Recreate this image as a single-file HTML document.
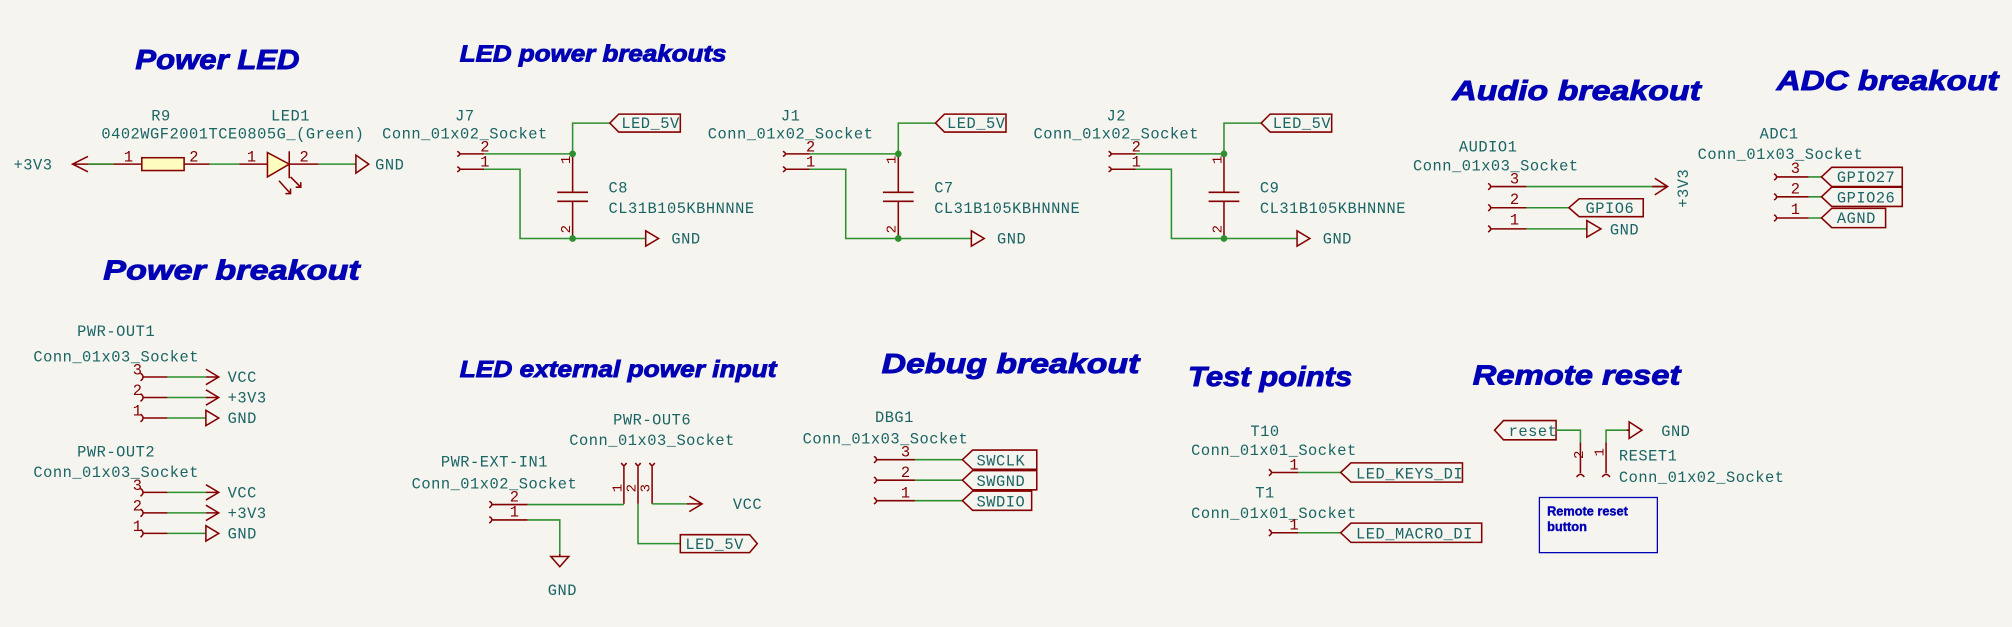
<!DOCTYPE html>
<html><head><meta charset="utf-8"><style>
html,body{margin:0;padding:0;background:#f5f4ef;}
svg{display:block}
text{font-family:"Liberation Mono",monospace;font-size:12px;letter-spacing:0.4px;fill:#1a6464}
.h{font-family:"Liberation Sans",sans-serif;font-weight:bold;font-style:italic;fill:#0000b4;letter-spacing:0;stroke:#0000b4;stroke-width:0.7}
.n{fill:#840000;font-size:12px}
.r{stroke:#840000;stroke-width:1.2;fill:none}
.g{stroke:#2d8f2d;stroke-width:1.2;fill:none}
</style></head><body>
<svg width="2012" height="627" viewBox="0 0 1568 489" xmlns="http://www.w3.org/2000/svg">
<rect width="1568" height="489" fill="#f5f4ef"/>
<!-- headings -->
<text class="h" x="105" y="54" style="font-size:22px" textLength="128" lengthAdjust="spacingAndGlyphs">Power LED</text>
<text class="h" x="358" y="48" style="font-size:18px" textLength="208" lengthAdjust="spacingAndGlyphs">LED power breakouts</text>
<text class="h" x="1132" y="78" style="font-size:22px" textLength="194" lengthAdjust="spacingAndGlyphs">Audio breakout</text>
<text class="h" x="1385" y="70" style="font-size:22px" textLength="173" lengthAdjust="spacingAndGlyphs">ADC breakout</text>
<text class="h" x="80" y="218" style="font-size:22px" textLength="200" lengthAdjust="spacingAndGlyphs">Power breakout</text>
<text class="h" x="358" y="294" style="font-size:18px" textLength="247" lengthAdjust="spacingAndGlyphs">LED external power input</text>
<text class="h" x="687" y="291" style="font-size:22px" textLength="201" lengthAdjust="spacingAndGlyphs">Debug breakout</text>
<text class="h" x="926" y="301" style="font-size:22px" textLength="128" lengthAdjust="spacingAndGlyphs">Test points</text>
<text class="h" x="1148" y="300" style="font-size:22px" textLength="162" lengthAdjust="spacingAndGlyphs">Remote reset</text>

<!-- Power LED -->
<text x="125" y="94" text-anchor="middle">R9</text>
<text x="181" y="108" text-anchor="middle">0402WGF2001TCE0805G_(Green)</text>
<text x="226" y="94" text-anchor="middle">LED1</text>
<text x="10" y="132">+3V3</text>
<path class="r" d="M68 122 L56 128 L68 134 M56 128 H88"/>
<path class="g" d="M68 128 H88"/>
<path class="r" d="M88 128 H110 M143 128 H163"/>
<rect x="110" y="123" width="33" height="10" fill="#fffcc0" stroke="#840000" stroke-width="1.2"/>
<text class="n" x="96" y="126">1</text><text class="n" x="147" y="126">2</text>
<path class="g" d="M163 128 H186"/>
<path class="r" d="M186 128 H208 M225 128 H248"/>
<path d="M208 119 L225 128 L208 138 Z" fill="#fffcc0" stroke="#840000" stroke-width="1.2"/>
<path class="r" d="M225 118 V139"/>
<text class="n" x="192" y="126">1</text><text class="n" x="233" y="126">2</text>
<path class="r" d="M217 141 L226 151 M222 151 L226 151 L226 147 M226 138 L234 146 M230 146 L234 146 L234 142"/>
<path class="g" d="M248 128 H276"/>
<path class="r" d="M276 128 H277 M277 121 L287 128 L277 135 Z"/>
<text x="292" y="132">GND</text>

<!-- LED power breakouts x3 -->
<g>
<text x="362" y="94" text-anchor="middle">J7</text>
<text x="362" y="108" text-anchor="middle">Conn_01x02_Socket</text>
<path class="r" d="M356 118 Q360 120 356 122 M358 120 H377 M356 130 Q360 132 356 134 M358 132 H377"/>
<text class="n" x="374" y="118">2</text><text class="n" x="374" y="130">1</text>
<path class="g" d="M377 120 H446 M377 132 H405 V186 H503 M446 120 V96 H475"/>
<path class="r" d="M446 120 V150 M434 150 H458 M434 157 H458 M446 157 V186"/>
<circle cx="446" cy="120" r="2.6" fill="#2d8f2d"/><circle cx="446" cy="186" r="2.6" fill="#2d8f2d"/>
<text class="n" transform="translate(444 128) rotate(-90)" style="font-size:11px">1</text>
<text class="n" transform="translate(444 182) rotate(-90)" style="font-size:11px">2</text>
<path class="r" d="M475 96 L482 89 H530 V103 H482 Z"/>
<text x="484" y="100">LED_5V</text>
<text x="474" y="150">C8</text>
<text x="474" y="166">CL31B105KBHNNNE</text>
<path class="r" d="M503 180 L513 186 L503 192 Z"/>
<text x="523" y="190">GND</text>
</g>
<g transform="translate(254 0)">
<text x="362" y="94" text-anchor="middle">J1</text>
<text x="362" y="108" text-anchor="middle">Conn_01x02_Socket</text>
<path class="r" d="M356 118 Q360 120 356 122 M358 120 H377 M356 130 Q360 132 356 134 M358 132 H377"/>
<text class="n" x="374" y="118">2</text><text class="n" x="374" y="130">1</text>
<path class="g" d="M377 120 H446 M377 132 H405 V186 H503 M446 120 V96 H475"/>
<path class="r" d="M446 120 V150 M434 150 H458 M434 157 H458 M446 157 V186"/>
<circle cx="446" cy="120" r="2.6" fill="#2d8f2d"/><circle cx="446" cy="186" r="2.6" fill="#2d8f2d"/>
<text class="n" transform="translate(444 128) rotate(-90)" style="font-size:11px">1</text>
<text class="n" transform="translate(444 182) rotate(-90)" style="font-size:11px">2</text>
<path class="r" d="M475 96 L482 89 H530 V103 H482 Z"/>
<text x="484" y="100">LED_5V</text>
<text x="474" y="150">C7</text>
<text x="474" y="166">CL31B105KBHNNNE</text>
<path class="r" d="M503 180 L513 186 L503 192 Z"/>
<text x="523" y="190">GND</text>
</g>
<g transform="translate(508 0)">
<text x="362" y="94" text-anchor="middle">J2</text>
<text x="362" y="108" text-anchor="middle">Conn_01x02_Socket</text>
<path class="r" d="M356 118 Q360 120 356 122 M358 120 H377 M356 130 Q360 132 356 134 M358 132 H377"/>
<text class="n" x="374" y="118">2</text><text class="n" x="374" y="130">1</text>
<path class="g" d="M377 120 H446 M377 132 H405 V186 H503 M446 120 V96 H475"/>
<path class="r" d="M446 120 V150 M434 150 H458 M434 157 H458 M446 157 V186"/>
<circle cx="446" cy="120" r="2.6" fill="#2d8f2d"/><circle cx="446" cy="186" r="2.6" fill="#2d8f2d"/>
<text class="n" transform="translate(444 128) rotate(-90)" style="font-size:11px">1</text>
<text class="n" transform="translate(444 182) rotate(-90)" style="font-size:11px">2</text>
<path class="r" d="M475 96 L482 89 H530 V103 H482 Z"/>
<text x="484" y="100">LED_5V</text>
<text x="474" y="150">C9</text>
<text x="474" y="166">CL31B105KBHNNNE</text>
<path class="r" d="M503 180 L513 186 L503 192 Z"/>
<text x="523" y="190">GND</text>
</g>

<!-- Audio -->
<text x="1160" y="118" text-anchor="middle">AUDIO1</text>
<text x="1166" y="133" text-anchor="middle">Conn_01x03_Socket</text>
<path class="r" d="M1160 143 Q1164 145.5 1160 148 M1162 145.5 H1190 M1160 159.5 Q1164 162 1160 164.5 M1162 162 H1190 M1160 176 Q1164 178.5 1160 181 M1162 178.5 H1190"/>
<text class="n" x="1177" y="143">3</text><text class="n" x="1177" y="159">2</text><text class="n" x="1177" y="175">1</text>
<path class="g" d="M1190 145.5 H1300 M1190 162 H1223 M1190 178.5 H1237"/>
<path class="r" d="M1288 145.5 H1300 M1290 139 L1300 145.5 L1290 152"/>
<text transform="translate(1316 162) rotate(-90)">+3V3</text>
<path class="r" d="M1223 162 L1231 155 H1281 V169 H1231 Z"/>
<text x="1236" y="166">GPIO6</text>
<path class="r" d="M1237 172 L1248 178.5 L1237 185 Z"/>
<text x="1255" y="183">GND</text>

<!-- ADC -->
<text x="1387" y="108" text-anchor="middle">ADC1</text>
<text x="1388" y="124" text-anchor="middle">Conn_01x03_Socket</text>
<path class="r" d="M1383 135.5 Q1387 138 1383 140.5 M1385 138 H1410 M1383 151 Q1387 153.5 1383 156 M1385 153.5 H1410 M1383 167.5 Q1387 170 1383 172.5 M1385 170 H1410"/>
<text class="n" x="1396" y="135">3</text><text class="n" x="1396" y="151">2</text><text class="n" x="1396" y="167">1</text>
<path class="g" d="M1410 138 H1420 M1410 153.5 H1420 M1410 170 H1420"/>
<path class="r" d="M1420 138 L1428 130.5 H1483 V145.5 H1428 Z M1420 153.5 L1428 146 H1483 V161 H1428 Z M1420 170 L1428 162.5 H1470 V177.5 H1428 Z"/>
<text x="1432" y="142">GPIO27</text><text x="1432" y="158">GPIO26</text><text x="1432" y="174">AGND</text>

<!-- Power breakout -->
<text x="90" y="262" text-anchor="middle">PWR-OUT1</text>
<text x="90" y="282" text-anchor="middle">Conn_01x03_Socket</text>
<path class="r" d="M109 291 Q113 294 109 297 M111 294 H130 M109 307 Q113 310 109 313 M111 310 H130 M109 323 Q113 326 109 329 M111 326 H130"/>
<text class="n" x="103" y="292">3</text><text class="n" x="103" y="308">2</text><text class="n" x="103" y="324">1</text>
<path class="g" d="M130 294 H160 M130 310 H160 M130 326 H160"/>
<path class="r" d="M160 294 H170 M160 288 L170 294 L160 300 M160 310 H170 M160 304 L170 310 L160 316 M160 320 L170 326 L160 332 Z"/>
<text x="177" y="298">VCC</text><text x="177" y="314">+3V3</text><text x="177" y="330">GND</text>

<text x="90" y="356" text-anchor="middle">PWR-OUT2</text>
<text x="90" y="372" text-anchor="middle">Conn_01x03_Socket</text>
<path class="r" d="M109 381 Q113 384 109 387 M111 384 H130 M109 397 Q113 400 109 403 M111 400 H130 M109 413 Q113 416 109 419 M111 416 H130"/>
<text class="n" x="103" y="382">3</text><text class="n" x="103" y="398">2</text><text class="n" x="103" y="414">1</text>
<path class="g" d="M130 384 H160 M130 400 H160 M130 416 H160"/>
<path class="r" d="M160 384 H170 M160 378 L170 384 L160 390 M160 400 H170 M160 394 L170 400 L160 406 M160 410 L170 416 L160 422 Z"/>
<text x="177" y="388">VCC</text><text x="177" y="404">+3V3</text><text x="177" y="420">GND</text>

<!-- LED external power input -->
<text x="508" y="331" text-anchor="middle">PWR-OUT6</text>
<text x="508" y="347" text-anchor="middle">Conn_01x03_Socket</text>
<text x="385" y="364" text-anchor="middle">PWR-EXT-IN1</text>
<text x="385" y="381" text-anchor="middle">Conn_01x02_Socket</text>
<path class="r" d="M484 361 Q486 365 488 361 M486 363 V393 M495 361 Q497 365 499 361 M497 363 V393 M506 361 Q508 365 510 361 M508 363 V393"/>
<text class="n" transform="translate(484 384) rotate(-90)" style="font-size:11px">1</text>
<text class="n" transform="translate(495 384) rotate(-90)" style="font-size:11px">2</text>
<text class="n" transform="translate(506 384) rotate(-90)" style="font-size:11px">3</text>
<path class="r" d="M381 391 Q385 393 381 396 M383 393.5 H411 M381 403 Q385 405 381 408 M383 405.5 H411"/>
<text class="n" x="397" y="391">2</text><text class="n" x="397" y="403">1</text>
<path class="g" d="M411 393.5 H486 M411 405.5 H436 V432 M497 393 V424 H530 M508 393 H535"/>
<path class="r" d="M535 393 H547 M537 387 L547 393 L537 399"/>
<text x="571" y="397">VCC</text>
<path class="r" d="M436 432 V434 M429 434 H443 L436 442 Z"/>
<text x="438" y="464" text-anchor="middle">GND</text>
<path class="r" d="M530 417 H584 L590 424 L584 431 H530 Z"/>
<text x="534" y="428">LED_5V</text>

<!-- Debug -->
<text x="697" y="329" text-anchor="middle">DBG1</text>
<text x="690" y="346" text-anchor="middle">Conn_01x03_Socket</text>
<path class="r" d="M681 356 Q685 358 681 361 M683 358.5 H713 M681 372 Q685 374.5 681 377 M683 374.5 H713 M681 388 Q685 391 681 393 M683 390.5 H713"/>
<text class="n" x="702" y="356">3</text><text class="n" x="702" y="372">2</text><text class="n" x="702" y="388">1</text>
<path class="g" d="M713 358.5 H750 M713 374.5 H750 M713 390.5 H750"/>
<path class="r" d="M750 358.5 L758 351 H808 V366 H758 Z M750 374.5 L758 367 H808 V382 H758 Z M750 390.5 L758 383 H804 V398 H758 Z"/>
<text x="761" y="363">SWCLK</text><text x="761" y="379">SWGND</text><text x="761" y="395">SWDIO</text>

<!-- Test points -->
<text x="986" y="340" text-anchor="middle">T10</text>
<text x="993" y="355" text-anchor="middle">Conn_01x01_Socket</text>
<path class="r" d="M989 366 Q993 368.5 989 371 M991 368.5 H1012"/>
<text class="n" x="1005" y="366">1</text>
<path class="g" d="M1012 368.5 H1045"/>
<path class="r" d="M1045 368.5 L1053 361 H1140 V376 H1053 Z"/>
<text x="1057" y="373">LED_KEYS_DI</text>
<text x="986" y="388" text-anchor="middle">T1</text>
<text x="993" y="404" text-anchor="middle">Conn_01x01_Socket</text>
<path class="r" d="M989 413 Q993 415.5 989 418 M991 415.5 H1012"/>
<text class="n" x="1005" y="413">1</text>
<path class="g" d="M1012 415.5 H1045"/>
<path class="r" d="M1045 415.5 L1053 408 H1155 V423 H1053 Z"/>
<text x="1057" y="420">LED_MACRO_DI</text>

<!-- Remote reset -->
<path class="r" d="M1165 335.5 L1172 328 H1213 V343 H1172 Z"/>
<text x="1176" y="340">reset</text>
<path class="g" d="M1213 335.5 H1232 V345 M1252 345 V335.5 H1268"/>
<path class="r" d="M1232 345 V369 M1229 372 Q1232 368 1235 372 M1252 345 V369 M1249 372 Q1252 368 1255 372"/>
<text class="n" transform="translate(1234 358) rotate(-90)" style="font-size:11px">2</text>
<text class="n" transform="translate(1250 356) rotate(-90)" style="font-size:11px">1</text>
<path class="r" d="M1268 335.5 H1270 M1270 329 L1280 335.5 L1270 342 Z"/>
<text x="1295" y="340">GND</text>
<text x="1262" y="359">RESET1</text>
<text x="1262" y="376">Conn_01x02_Socket</text>
<rect x="1200" y="388" width="92" height="43" fill="none" stroke="#0000b4" stroke-width="1"/>
<text class="h" x="1206" y="402" style="font-size:10px;font-style:normal;stroke-width:0.3" textLength="63" lengthAdjust="spacingAndGlyphs">Remote reset</text>
<text class="h" x="1206" y="414" style="font-size:10px;font-style:normal;stroke-width:0.3">button</text>
</svg>
</body></html>
